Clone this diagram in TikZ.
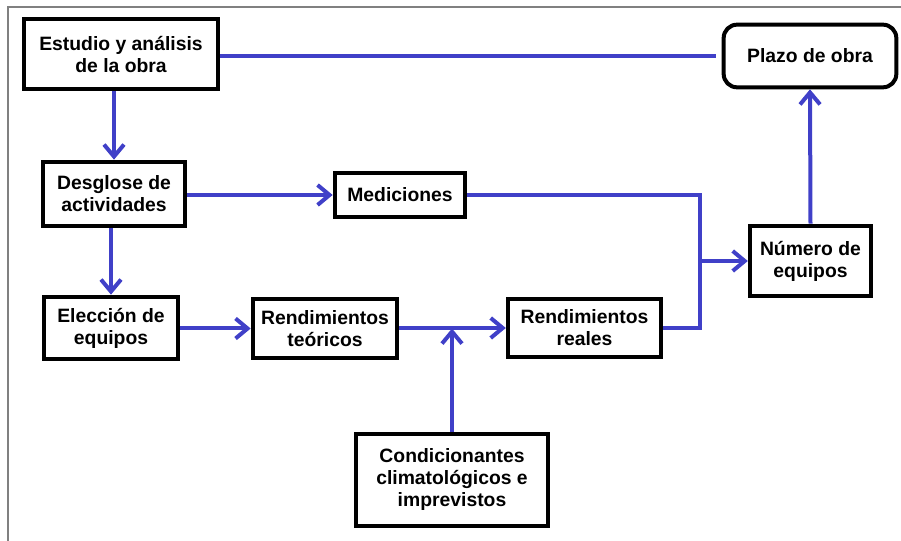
\documentclass[tikz,border=0pt]{standalone}
\usepackage{fontspec}
\setmainfont{Liberation Sans}
\usetikzlibrary{arrows.meta}
\definecolor{flujo}{RGB}{64,64,200}
\tikzset{
  caja/.style={draw, line width=3pt, fill=white, align=center, inner sep=0pt,
    font=\bfseries\fontsize{14.5}{16.5}\selectfont},
  linea/.style={draw=flujo, line width=3pt},
  flecha/.style={linea, -{Straight Barb[length=9pt,width=15pt]}},
}

\begin{document}
\begin{tikzpicture}[x=0.75pt,y=-0.75pt]
	\useasboundingbox (0,0) rectangle (901,541);
	\draw[gray, line width=1pt] (8,541) -- (8,7) -- (901,7);
	
	\node[caja, minimum width=146pt, minimum height=52.5pt] (estudio) at (121,54.5) {Estudio y análisis\\de la obra};
	\node[caja, rounded corners=10pt, minimum width=129.5pt, minimum height=47pt] (plazo) at (810,56) {Plazo de obra};
	\node[caja, minimum width=107pt, minimum height=48.5pt] (desglose) at (114,194) {Desglose de\\actividades};
	\node[caja, minimum width=98pt, minimum height=33.5pt] (mediciones) at (400,195) {Mediciones};
	\node[caja, minimum width=91pt, minimum height=53pt] (numero) at (810.5,261) {Número de\\equipos};
	\node[caja, minimum width=101pt, minimum height=47pt] (eleccion) at (111,328) {Elección de\\equipos};
	\node[caja, minimum width=108.5pt, minimum height=44.75pt] (teoricos) at (325,328.5) {Rendimientos\\teóricos};
	\node[caja, minimum width=115pt, minimum height=44pt] (reales) at (584.5,328) {Rendimientos\\reales};
	\node[caja, minimum width=144.5pt, minimum height=69.5pt] (condic) at (452,480) {Condicionantes\\climatológicos e\\imprevistos};
	
	\coordinate (cruce) at (condic.north |- teoricos.east);
	\coordinate (nudo) at (700,261);
	
	\draw[linea, shorten >=4pt] (estudio.east |- plazo.west) -- (plazo.west);
	\draw[flecha] (desglose.north |- estudio.south) -- (desglose.north);
	\draw[flecha] (desglose.east |- mediciones.west) -- (mediciones.west);
	\draw[flecha] (eleccion.north |- desglose.south) -- (eleccion.north);
	\draw[flecha] (eleccion.east |- teoricos.west) -- (teoricos.west);
	\draw[flecha] (teoricos.east |- reales.west) -- (reales.west);
	\draw[flecha] (condic.north) -- (cruce);
	\draw[linea] (mediciones.east) -| (nudo |- reales.east) -- (reales.east);
	\draw[flecha] (nudo) -- (numero.west |- nudo);
	\draw[flecha] (numero.north) -- (plazo.south);
\end{tikzpicture}
\end{document}
